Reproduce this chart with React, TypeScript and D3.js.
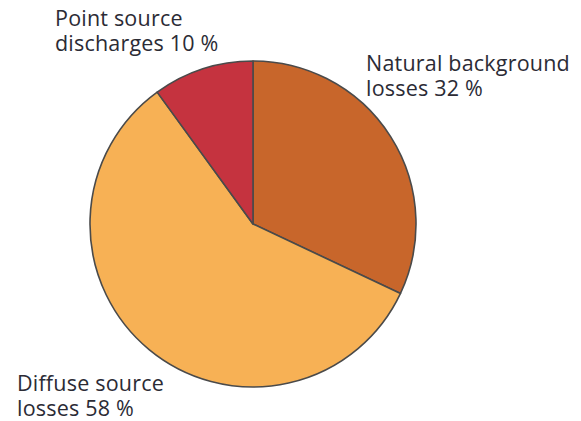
import React from "react";
import * as d3 from "d3";

const categories = ["Natural background losses", "Diffuse source losses", "Point source discharges"];
const values = [32, 58, 10];
const colors = ["#C8662B", "#F7B155", "#C5333F"];
const labelLines = [
  ["Natural background", "losses 32 %"],
  ["Diffuse source", "losses 58 %"],
  ["Point source", "discharges 10 %"],
];

export default function App() {
  const W = 581, H = 421;
  const cx = 253, cy = 224, r = 163;
  const pie = d3.pie<number>().sort(null).value((d) => d);
  const arcs = pie(values);
  const arc = d3.arc<d3.PieArcDatum<number>>().innerRadius(0).outerRadius(r);
  const labelPos = [
    { x: 366, y: 71 },
    { x: 17, y: 391 },
    { x: 55, y: 26 },
  ];
  return (
    <svg width={W} height={H} style={{ position: "absolute", left: 0, top: 0, background: "#fff" }}>
      <g transform={`translate(${cx},${cy})`}>
        {arcs.map((a, i) => (
          <path key={categories[i]} d={arc(a) || ""} fill={colors[i]} stroke="#4a4a4a" strokeWidth={1.6} strokeLinejoin="round" />
        ))}
      </g>
      {labelLines.map((lines, i) => (
        <text key={i} x={labelPos[i].x} y={labelPos[i].y} fontFamily="'Open Sans', sans-serif" fontSize={21.5} letterSpacing={0.2} fill="#2b2b35">
          {lines.map((l, j) => (
            <tspan key={j} x={labelPos[i].x} dy={j === 0 ? 0 : 25}>{l}</tspan>
          ))}
        </text>
      ))}
    </svg>
  );
}
